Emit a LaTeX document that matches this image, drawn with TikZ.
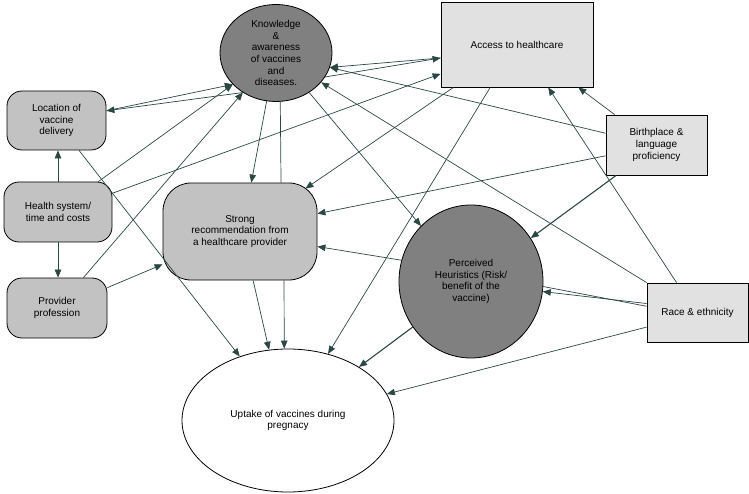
\documentclass[tikz,border=0pt]{standalone}
\usepackage{fontspec}
\setmainfont{Liberation Sans}
\usepackage{xcolor}
\usetikzlibrary{shapes.geometric,arrows.meta,calc}

\definecolor{darkfill}{HTML}{808080}
\definecolor{midfill}{HTML}{C2C2C2}
\definecolor{lightfill}{HTML}{E1E1E1}
\definecolor{linkcol}{HTML}{2B4744}

\begin{document}
\begin{tikzpicture}[x=1pt, y=-1pt,
    every node/.style={font=\fontsize{10}{11.7}\selectfont, align=center, inner sep=0pt, line width=0.8pt},
    factor/.style={draw, rounded corners=15pt, fill=midfill},
    belief/.style={draw, ellipse, fill=darkfill},
    context/.style={draw, fill=lightfill},
    link/.style={draw=linkcol, line width=0.7pt, -{Triangle[length=8pt,width=6.5pt]}},
    plain/.style={draw=linkcol, line width=0.7pt}]
        \useasboundingbox (0,0) rectangle (749,494);

        % Circles
        \node[belief, minimum width=112pt, minimum height=97pt] (know) at (276,53) {Knowledge\\\&\\awareness\\of vaccines\\and\\diseases.};
        \node[belief, minimum width=144pt, minimum height=153pt] (heur) at (471,281.5) {Perceived\\Heuristics (Risk/\\benefit of the\\vaccine)};
        \node[draw, ellipse, fill=white, minimum width=212pt, minimum height=143pt] (uptake) at (288,420.5) {Uptake of vaccines during\\pregnacy};

        % Rounded boxes
        \node[factor, minimum width=99pt, minimum height=59pt] (loc) at (56.5,120.5) {Location of\\vaccine\\delivery};
        \node[factor, minimum width=108pt, minimum height=60pt] (hsys) at (58,212) {Health system/\\time and costs};
        \node[factor, minimum width=100pt, minimum height=60pt] (prof) at (57,308) {Provider\\profession};
        \node[factor, rounded corners=28pt, minimum width=154pt, minimum height=97pt] (recom) at (240,231.5) {Strong\\recommendation from\\a healthcare provider};

        % Plain boxes
        \node[context, minimum width=152pt, minimum height=85pt] (access) at (517,44.5) {Access to healthcare};
        \node[context, minimum width=101pt, minimum height=60pt] (birth) at (656.5,145) {Birthplace \&\\language\\proficiency};
        \node[context, minimum width=101pt, minimum height=59pt] (race) at (697.5,312.5) {Race \& ethnicity};

        \draw[link] (loc.11) -- (know.216);
        \draw[link] (know.230) -- (loc.11);
        \draw[link] (hsys.north) -- (hsys.north |- loc.south);
        \draw[link] (hsys.south) -- (hsys.south |- prof.north);
        \draw[link] (hsys.37) -- (know.216);
        \draw[link] (hsys.19) -- (access.201);
        \draw[link] (prof.49) -- (know.230);
        \draw[link] (prof.22) -- (recom.203);
        \draw[link] (loc.307) -- (uptake.127);
        \draw[link] (know.259) -- (recom.77);
        \draw[plain] (recom.50) -- (know.275);
        \draw[link] (know.310) -- (heur.132);
        \draw[link] (access.190) -- (know.345);
        \draw[link] (know.334) -- (access.190);
        \draw[link] (access.214) -- ($(recom.north east)+(-12,6)$);
        \draw[link] (access.238) -- (uptake.59);
        \draw[link] (birth.144) -- (access.325);
        \draw[link] (birth.167) -- (know.345);
        \draw[link] (birth.192) -- (recom.13);
        \draw[link, line width=1.1pt] (birth.217) -- (heur.36);
        \draw[link] (race.125) -- (access.306);
        \draw[link] (race.north west) -- (know.327);
        \draw[link] (race.170) -- (heur.352);
        \draw[plain] (race.173) -- (heur.356);
        \draw[link] (race.196) -- (uptake.15);
        \draw[link] (heur.163) -- (recom.349);
        \draw[link, line width=1.1pt] (heur.218) -- (uptake.37);
        \draw[link] (recom.285) -- (uptake.105);
        \draw[link] (recom.312) -- (uptake.93);
    \end{tikzpicture}
\end{document}
